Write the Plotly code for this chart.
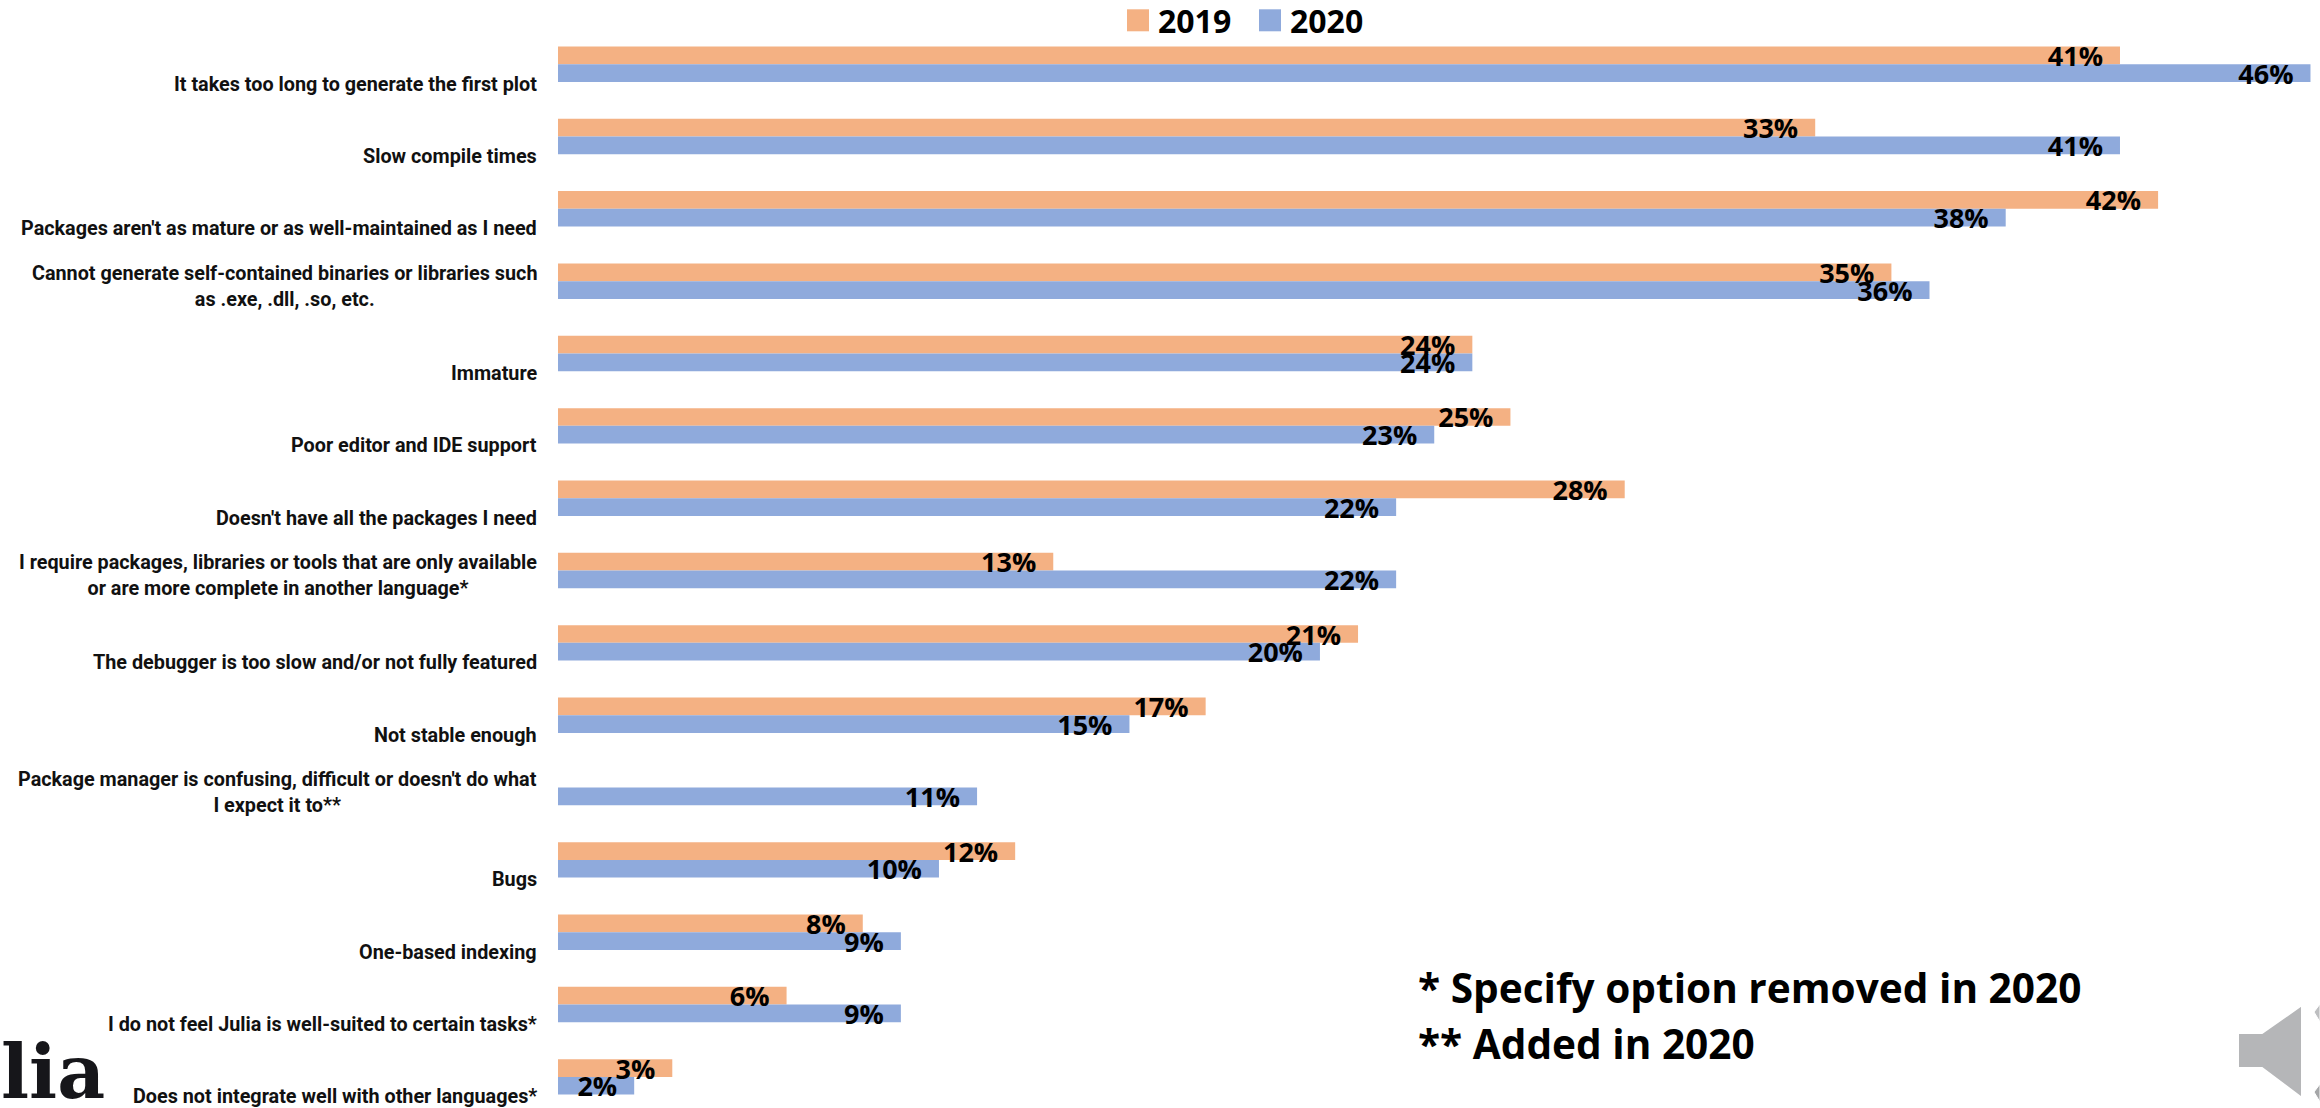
import plotly.graph_objects as go

categories = [
    "It takes too long to generate the first plot",
    "Slow compile times",
    "Packages aren't as mature or as well-maintained as I need",
    "Cannot generate self-contained binaries or libraries such<br>as .exe, .dll, .so, etc.",
    "Immature",
    "Poor editor and IDE support",
    "Doesn't have all the packages I need",
    "I require packages, libraries or tools that are only available<br>or are more complete in another language*",
    "The debugger is too slow and/or not fully featured",
    "Not stable enough",
    "Package manager is confusing, difficult or doesn't do what<br>I expect it to**",
    "Bugs",
    "One-based indexing",
    "I do not feel Julia is well-suited to certain tasks*",
    "Does not integrate well with other languages*",
]
values_2019 = [41, 33, 42, 35, 24, 25, 28, 13, 21, 17, None, 12, 8, 6, 3]
values_2020 = [46, 41, 38, 36, 24, 23, 22, 22, 20, 15, 11, 10, 9, 9, 2]
notes = ["* Specify option removed in 2020", "** Added in 2020"]

W, H = 2320, 1108
L, T = 558, 28
PW, PH = W - L, H - T


def px(x):
    return (x - L) / PW


def py(y):
    return 1 - (y - T) / PH


def path(points):
    return "M" + " L".join(f"{px(x):.5f},{py(y):.5f}" for x, y in points) + " Z"


fig = go.Figure()
for name, vals, color in [("2019", values_2019, "#F4B183"), ("2020", values_2020, "#8FAADC")]:
    fig.add_trace(go.Bar(
        name=name, y=categories, x=vals, orientation="h",
        marker=dict(color=color, line=dict(width=0)),
        text=[None if v is None else f"{v}%\u00a0\u00a0" for v in vals],
        textposition="inside", insidetextanchor="end", textangle=0,
        constraintext="none", cliponaxis=False,
        textfont=dict(family="Open Sans", size=27, color="#000000", weight="bold"),
        insidetextfont=dict(family="Open Sans", size=27, color="#000000", weight="bold"),
    ))

annotations = []
for c in categories:
    two = "<br>" in c
    annotations.append(dict(
        x=0, xref="paper", y=c, yref="y", xanchor="right", yanchor="middle",
        xshift=-19, yshift=-5 if two else -20, text=c, showarrow=False, align="center",
        font=dict(family="Roboto", size=19.8, color="#111111", weight="bold"),
    ))
for note, y in zip(notes, [987, 1043]):
    annotations.append(dict(
        x=px(1416), xref="paper", y=py(y), yref="paper", xanchor="left", yanchor="middle",
        text=note, showarrow=False,
        font=dict(family="Open Sans", size=40.6, color="#000000", weight="bold"),
    ))
annotations.append(dict(
    x=px(107), xref="paper", y=py(1072), yref="paper", xanchor="right", yanchor="middle",
    text="lia", showarrow=False,
    font=dict(family="DejaVu Serif", size=74, color="#16161a", weight="bold"),
))

shapes = [
    dict(type="path", xref="paper", yref="paper", layer="above", fillcolor="#b5b6b8",
         line=dict(color="#ffffff", width=2),
         path=path([(2238, 1033), (2262, 1033), (2302, 1005), (2302, 1098), (2262, 1068), (2238, 1068)])),
    dict(type="path", xref="paper", yref="paper", layer="above", fillcolor="#bdbec0",
         line=dict(color="#ffffff", width=1),
         path=path([(2314, 1012), (2320, 1004), (2320, 1022)])),
    dict(type="path", xref="paper", yref="paper", layer="above", fillcolor="#a5a6a8",
         line=dict(color="#ffffff", width=1),
         path=path([(2314, 1092), (2320, 1084), (2320, 1102)])),
]

fig.update_layout(
    width=W, height=H, autosize=False,
    margin=dict(l=L, r=0, t=T, b=0, pad=0),
    paper_bgcolor="#ffffff", plot_bgcolor="#ffffff",
    barmode="group", bargap=0.51, bargroupgap=0,
    legend=dict(orientation="h", x=(1250 - L) / PW, xanchor="center", y=1 + 28 / PH, yanchor="top",
                entrywidth=87, entrywidthmode="pixels",
                font=dict(family="Open Sans", size=32, color="#000000", weight="bold"),
                bgcolor="rgba(0,0,0,0)"),
    showlegend=True,
    annotations=annotations,
    shapes=shapes,
    xaxis=dict(range=[0, 46.25], visible=False, fixedrange=True),
    yaxis=dict(type="category", categoryorder="array", categoryarray=categories,
               range=[14.43, -0.5], showticklabels=False, showgrid=False, zeroline=False,
               showline=False, ticks="", fixedrange=True),
    font=dict(family="Open Sans"),
)
post = """
document.body.style.margin = '0';
setTimeout(function () {
  document.querySelectorAll('.legendpoints path').forEach(function (p) {
    p.setAttribute('d', 'M11,11H-11V-11H11Z');
  });
  var lg = document.querySelector('.legend');
  if (lg) lg.setAttribute('transform', lg.getAttribute('transform') + ' translate(0,-7)');
  var layer = document.querySelector('.barlayer');
  if (layer) layer.querySelectorAll('text').forEach(function (t) { layer.appendChild(t); });
}, 50);
"""
fig.write_html("out.html", config=dict(displayModeBar=False), post_script=post)
